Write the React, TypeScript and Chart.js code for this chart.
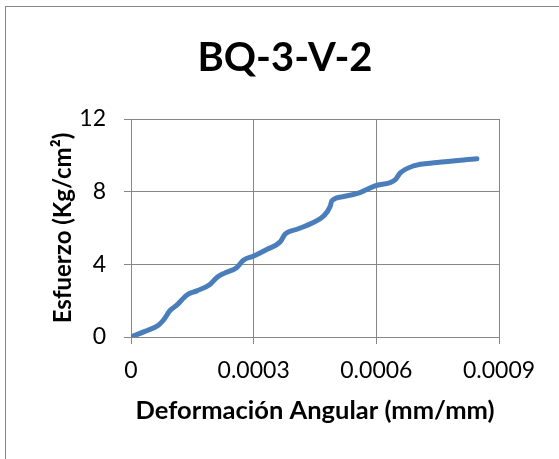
import React, { useEffect, useRef } from "react";
import { Chart, registerables } from "chart.js";

Chart.register(...registerables);

const chartTitle = "BQ-3-V-2";
const xAxisTitle = "Deformación Angular (mm/mm)";
const yAxisTitle = "Esfuerzo (Kg/cm²)";
const xTickLabels = ["0", "0.0003", "0.0006", "0.0009"];
const yTickLabels = ["0", "4", "8", "12"];

const strain = [
  0, 0.000034, 0.000067, 0.000079, 0.000096, 0.000112, 0.000136, 0.000161,
  0.000193, 0.00021, 0.00023, 0.000259, 0.000275, 0.000299, 0.000332,
  0.000365, 0.000377, 0.000406, 0.000442, 0.000471, 0.000487, 0.000491,
  0.00052, 0.00056, 0.000597, 0.000646, 0.000658, 0.000691, 0.000748,
  0.000846,
];
const stress = [
  0, 0.31, 0.65, 0.92, 1.47, 1.75, 2.3, 2.54, 2.89, 3.28, 3.53, 3.83, 4.23,
  4.45, 4.82, 5.24, 5.67, 5.93, 6.26, 6.66, 7.18, 7.49, 7.73, 7.95, 8.32,
  8.65, 9.02, 9.42, 9.6, 9.81,
];

const FONT = "Lato, 'Open Sans', sans-serif";
const GRID = "#868686";

const titlePlugin = {
  id: "customTitle",
  afterDraw(chart: any) {
    const ctx = chart.ctx;
    ctx.save();
    ctx.fillStyle = "#000";
    ctx.font = `bold 40px ${FONT}`;
    ctx.textAlign = "center";
    ctx.textBaseline = "alphabetic";
    ctx.fillText(chartTitle, 285, 71);
    ctx.restore();
  },
};

export default function App() {
  const ref = useRef<HTMLCanvasElement | null>(null);

  useEffect(() => {
    if (!ref.current) return;
    const chart = new Chart(ref.current, {
      type: "scatter",
      data: {
        datasets: [
          {
            data: strain.map((x, i) => ({ x, y: stress[i] })),
            showLine: true,
            borderColor: "#4a7ebb",
            backgroundColor: "#4a7ebb",
            borderWidth: 5,
            pointRadius: 0,
            pointHoverRadius: 0,
            tension: 0.4,
            cubicInterpolationMode: "monotone",
            borderCapStyle: "round",
            borderJoinStyle: "round",
          } as any,
        ],
      },
      options: {
        responsive: false,
        animation: false,
        events: [],
        layout: { padding: { left: 0, right: 60, top: 119, bottom: 0 } },
        plugins: {
          legend: { display: false },
          tooltip: { enabled: false },
          title: { display: false },
        },
        scales: {
          x: {
            type: "linear",
            min: 0,
            max: 0.0009,
            afterFit: (s: any) => {
              s.height = 122;
            },
            ticks: {
              stepSize: 0.0003,
              autoSkip: false,
              maxRotation: 0,
              padding: 13,
              color: "#000",
              font: { family: FONT, size: 23 },
              callback: (_v: any, i: number) => xTickLabels[i],
            },
            grid: { color: GRID, lineWidth: 1, tickLength: 7, drawTicks: true },
            border: { color: GRID, width: 1 },
            title: {
              display: true,
              text: xAxisTitle,
              color: "#000",
              font: { family: FONT, size: 25.5, weight: "bold", lineHeight: 1.2 },
              padding: { top: 0, bottom: 32.7 },
            },
          },
          y: {
            type: "linear",
            min: 0,
            max: 12,
            afterFit: (s: any) => {
              s.width = 131;
            },
            ticks: {
              stepSize: 4,
              autoSkip: false,
              padding: 18,
              color: "#000",
              font: { family: FONT, size: 23 },
              callback: (_v: any, i: number) => yTickLabels[i],
            },
            grid: { color: GRID, lineWidth: 1, tickLength: 7, drawTicks: true },
            border: { color: GRID, width: 1 },
            title: {
              display: true,
              text: yAxisTitle,
              color: "#000",
              font: { family: FONT, size: 24, weight: "bold", lineHeight: 1.2 },
              padding: { top: 48.6, bottom: 0 },
            },
          },
        },
      },
      plugins: [titlePlugin],
    });
    return () => chart.destroy();
  }, []);

  return (
    <div
      style={{
        position: "fixed",
        left: 0,
        top: 0,
        width: 559,
        height: 459,
        overflow: "hidden",
        background: "#fff",
      }}
    >
      <div
        style={{
          position: "absolute",
          left: 5,
          top: 6,
          width: 600,
          height: 500,
          border: `1px solid ${GRID}`,
          boxSizing: "border-box",
        }}
      />
      <canvas
        ref={ref}
        width={559}
        height={459}
        style={{ position: "absolute", left: 0, top: 0, width: 559, height: 459 }}
      />
    </div>
  );
}
